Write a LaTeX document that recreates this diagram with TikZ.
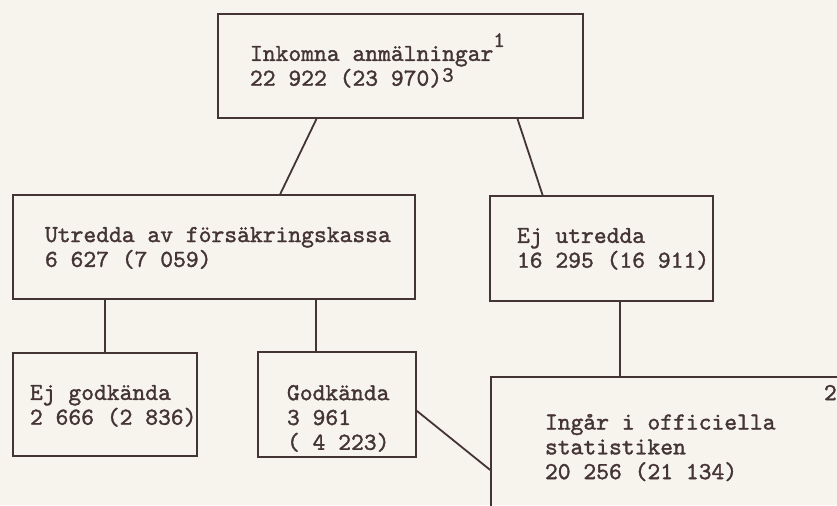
\documentclass[tikz,border=0pt]{standalone}
\usepackage{fontspec}
\newfontfamily\typewriter{lmmono10-regular.otf}[FakeBold=1.4]
\usetikzlibrary{positioning,calc}
\definecolor{paper}{RGB}{246,244,237}
\definecolor{ink}{RGB}{68,52,52}
\newcommand{\fnmark}[2]{\raisebox{#1}[0pt][0pt]{\fontsize{11}{11}\selectfont #2}}

\begin{document}
\begin{tikzpicture}[x=0.5pt, y=-0.5pt, color=ink, line width=0.9pt,
    box/.style={draw, rectangle, inner sep=0pt},
    txt/.style={inner sep=0pt, align=left, anchor=north west,
      font=\typewriter\fontsize{12.2pt}{12.4pt}\selectfont}]
  \path[use as bounding box, fill=paper] (0,0) rectangle (837,505);
  \clip (0,0) rectangle (837,505);

  % Top box
  \node[box, minimum width=182.5pt, minimum height=52pt] (inkomna) at (400.5,66) {};
  \node[txt, below right=16pt and 16pt of inkomna.north west] (inkomnaText)
    {Inkomna anmälningar\fnmark{7pt}{1}\\22 922 (23 970)\fnmark{2pt}{3}};

  % Middle row
  \node[box, minimum width=201pt, minimum height=52pt] (utredda) at (214,247) {};
  \node[txt, below right=16pt and 16pt of utredda.north west] (utreddaText)
    {Utredda av försäkringskassa\\6 627 (7 059)};
  \node[box, minimum width=111.5pt, minimum height=52.5pt] (ejUtredda) at (601.5,248.5) {};
  \node[txt, below right=16pt and 13.5pt of ejUtredda.north west] (ejUtreddaText)
    {Ej utredda\\16 295 (16 911)};

  % Bottom row
  \node[box, minimum width=92pt, minimum height=51.5pt] (ejGodkanda) at (105,404.5) {};
  \node[txt, below right=16pt and 8.5pt of ejGodkanda.north west] (ejGodkandaText)
    {Ej godkända\\2 666 (2 836)};
  \node[box, minimum width=79pt, minimum height=52.5pt] (godkanda) at (337,404.5) {};
  \node[txt, below right=16.5pt and 14.5pt of godkanda.north west] (godkandaText)
    {Godkända\\3 961\\( 4 223)};
  \node[box, minimum width=210pt, minimum height=95pt] (ingar) at (701,472) {};
  \node[txt, below right=18.5pt and 27pt of ingar.north west] (ingarText)
    {Ingår i officiella\\statistiken\\20 256 (21 134)};
  \node[txt, below right=4pt and 166.5pt of ingar.north west] (ingarMark) {2};

  % Lines
  \draw ($(inkomna.south west)!0.271!(inkomna.south east)$)
    -- ($(utredda.north west)!0.664!(utredda.north east)$);
  \draw ($(inkomna.south west)!0.819!(inkomna.south east)$)
    -- ($(ejUtredda.north west)!0.238!(ejUtredda.north east)$);
  \draw (ejGodkanda.north |- utredda.south) -- (ejGodkanda.north);
  \coordinate (godkTop) at ($(godkanda.north west)!0.367!(godkanda.north east)$);
  \draw (godkTop |- utredda.south) -- (godkTop);
  \coordinate (ingarTop) at ($(ejUtredda.south west)!0.583!(ejUtredda.south east)$);
  \draw (ingarTop) -- (ingarTop |- ingar.north);
  \draw ($(godkanda.north east)!0.56!(godkanda.south east)$)
    -- ($(ingar.north west)!0.489!(ingar.south west)$);
\end{tikzpicture}
\end{document}
